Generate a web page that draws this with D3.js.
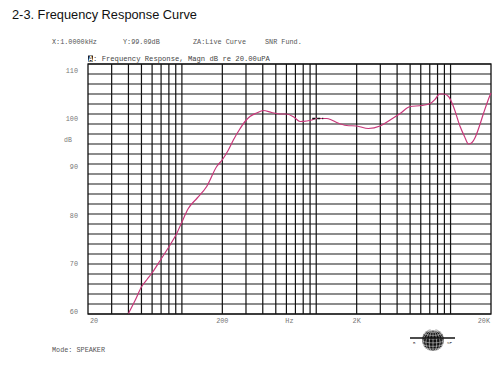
<!DOCTYPE html>
<html>
<head>
<meta charset="utf-8">
<script src="https://cdn.jsdelivr.net/npm/d3@7"></script>
<style>
  body { margin: 0; background: #fff; }
  svg { display: block; }
</style>
</head>
<body>
<div class="chart"></div>
<script>
// response curve (Hz, dB)
const freqs = [40, 45, 50.2, 55, 59.6, 70, 81.6, 91.5, 100, 111.6, 130, 153, 181.6, 200.6, 221.8, 241.6, 270, 295, 321, 360, 403.8, 466, 538, 600, 680, 758, 850, 927, 1000, 1100, 1200, 1300, 1422, 1687, 2000, 2443, 2986, 3548, 4211, 5000, 6110, 7046, 7700, 8275, 8900, 9660, 10500, 11780, 12700, 13590, 14300, 15240, 16400, 17580, 19700, 20000];
const levels = [60.1, 62.8, 65.5, 66.9, 68.1, 71.0, 73.8, 76.1, 78.4, 81.1, 83.2, 85.5, 89.5, 90.9, 92.8, 94.8, 97.0, 98.5, 99.5, 100.2, 100.7, 100.3, 100.0, 100.0, 99.4, 98.5, 98.6, 98.8, 99.1, 99.1, 99.1, 98.8, 98.3, 97.7, 97.6, 97.1, 97.6, 98.8, 100.1, 101.5, 101.7, 102.1, 103.0, 104.0, 104.0, 103.5, 101.5, 97.5, 95.5, 94.0, 94.2, 95.3, 97.6, 100.1, 103.8, 104.2];

const yTicks = [110, 100, 90, 80, 70, 60];
const xLabels = [
  { f: 20, text: "20", anchor: "start", dx: 2 },
  { f: 200, text: "200", anchor: "middle", dx: 0 },
  { f: 632, text: "Hz", anchor: "middle", dx: 0 },
  { f: 2000, text: "2K", anchor: "middle", dx: 0 },
  { f: 20000, text: "20K", anchor: "end", dx: -1 }
];
const cursor = { f: 1000, db: 99.09 };

const W = 501, H = 368;
const pLeft = 88, pRight = 491, pTop = 64, pBottom = 314;

const svg = d3.select(".chart")
  .append("svg")
  .attr("width", W)
  .attr("height", H);

const x = d3.scaleLog().domain([20, 20000]).range([pLeft, pRight]);
const y = d3.scaleLinear().domain([60, 110]).range([pBottom, pTop]);
// the dB labels sit a bit inside the grid in the original
const yLab = d3.scaleLinear().domain([60, 110]).range([312, 71]);

const mono = "'Liberation Mono', 'DejaVu Sans Mono', monospace";

// title
svg.append("text")
  .attr("x", 12)
  .attr("y", 19)
  .attr("font-family", "'Liberation Sans', Arial, sans-serif")
  .attr("font-size", "12.8px")
  .attr("fill", "#111")
  .text("2-3. Frequency Response Curve");

// readout line
const readout = [
  { x: 52, t: "X:1.0000kHz" },
  { x: 123, t: "Y:99.09dB" },
  { x: 193, t: "ZA:Live Curve" },
  { x: 265, t: "SNR Fund." }
];
svg.selectAll(".readout")
  .data(readout)
  .join("text")
  .attr("x", d => d.x)
  .attr("y", 44)
  .attr("font-family", mono)
  .attr("font-size", "6.8px")
  .attr("fill", "#555")
  .text(d => d.t);

// trace label: boxed "A" then the description
svg.append("rect")
  .attr("x", 88)
  .attr("y", 55.5)
  .attr("width", 5)
  .attr("height", 6)
  .attr("fill", "#222");
svg.append("text")
  .attr("x", 88.5)
  .attr("y", 61)
  .attr("font-family", mono)
  .attr("font-size", "7.2px")
  .attr("font-weight", "bold")
  .attr("fill", "#fff")
  .text("A");
svg.append("text")
  .attr("x", 93)
  .attr("y", 61)
  .attr("font-family", mono)
  .attr("font-size", "7.2px")
  .attr("fill", "#444")
  .text(": Frequency Response, Magn dB re 20.00uPA");

// horizontal grid every 2 dB
const hLines = d3.range(60, 111, 2);
svg.append("g")
  .selectAll("line")
  .data(hLines)
  .join("line")
  .attr("x1", pLeft)
  .attr("x2", pRight)
  .attr("y1", d => y(d))
  .attr("y2", d => y(d))
  .attr("stroke", d => ((d - 60) % 4 === 0 ? "#1a1a1a" : "#666"))
  .attr("stroke-width", d => ((d - 60) % 4 === 0 ? 1.1 : 1.5));

// vertical log grid
const vGrid = [];
[10, 100, 1000, 10000].forEach(dec => {
  for (let k = 1; k <= 9; k++) {
    const f = dec * k;
    if (f > 20 && f < 20000) vGrid.push(f);
  }
});
svg.append("g")
  .selectAll("line")
  .data(vGrid)
  .join("line")
  .attr("x1", d => x(d))
  .attr("x2", d => x(d))
  .attr("y1", pTop)
  .attr("y2", pBottom)
  .attr("stroke", "#111")
  .attr("stroke-width", 1.2);

// frame
svg.append("rect")
  .attr("x", pLeft)
  .attr("y", pTop)
  .attr("width", pRight - pLeft)
  .attr("height", pBottom - pTop)
  .attr("fill", "none")
  .attr("stroke", "#111")
  .attr("stroke-width", 1.3);

// y labels
svg.selectAll(".ylab")
  .data(yTicks)
  .join("text")
  .attr("x", 78)
  .attr("y", d => yLab(d) + 2)
  .attr("text-anchor", "end")
  .attr("font-family", mono)
  .attr("font-size", "6.8px")
  .attr("fill", "#777")
  .text(d => d);
svg.append("text")
  .attr("x", 64)
  .attr("y", 142)
  .attr("font-family", mono)
  .attr("font-size", "6.5px")
  .attr("fill", "#777")
  .text("dB");

// x labels
svg.selectAll(".xlab")
  .data(xLabels)
  .join("text")
  .attr("x", d => x(d.f) + d.dx)
  .attr("y", 323)
  .attr("text-anchor", d => d.anchor)
  .attr("font-family", mono)
  .attr("font-size", "6.8px")
  .attr("fill", "#777")
  .text(d => d.text);

// curve
const pts = freqs.map((f, i) => [f, levels[i]]);
const line = d3.line()
  .x(d => x(d[0]))
  .y(d => y(d[1]))
  .curve(d3.curveMonotoneX);
svg.append("path")
  .datum(pts)
  .attr("d", line)
  .attr("fill", "none")
  .attr("stroke", "#c8377a")
  .attr("stroke-width", 1.2);

// cursor marker
const cx = x(cursor.f), cy = y(cursor.db);
svg.append("line")
  .attr("x1", cx - 4).attr("x2", cx + 7)
  .attr("y1", cy).attr("y2", cy)
  .attr("stroke", "#111")
  .attr("stroke-width", 1.6)
  .attr("stroke-dasharray", "3,2");

// mode
svg.append("text")
  .attr("x", 52)
  .attr("y", 352)
  .attr("font-family", mono)
  .attr("font-size", "6.8px")
  .attr("fill", "#555")
  .text("Mode: SPEAKER");

// logo: small globe with a bar
const gx = 433, gy = 340, gr = 11;
const proj = d3.geoOrthographic()
  .scale(gr)
  .translate([gx, gy])
  .rotate([20, -15]);
const geo = d3.geoPath(proj);
svg.append("path")
  .datum({ type: "Sphere" })
  .attr("d", geo)
  .attr("fill", "#111");
svg.append("path")
  .datum(d3.geoGraticule().step([20, 20])())
  .attr("d", geo)
  .attr("fill", "none")
  .attr("stroke", "#fff")
  .attr("stroke-width", 0.5);
svg.append("line")
  .attr("x1", 410).attr("x2", 455)
  .attr("y1", 338).attr("y2", 338)
  .attr("stroke", "#111")
  .attr("stroke-width", 1.5);
svg.append("text")
  .attr("x", 413).attr("y", 344)
  .attr("font-family", mono)
  .attr("font-size", "4px")
  .attr("fill", "#333")
  .text("R");
svg.append("text")
  .attr("x", 447).attr("y", 344)
  .attr("font-family", mono)
  .attr("font-size", "4px")
  .attr("fill", "#333")
  .text("SF");
</script>
</body>
</html>
